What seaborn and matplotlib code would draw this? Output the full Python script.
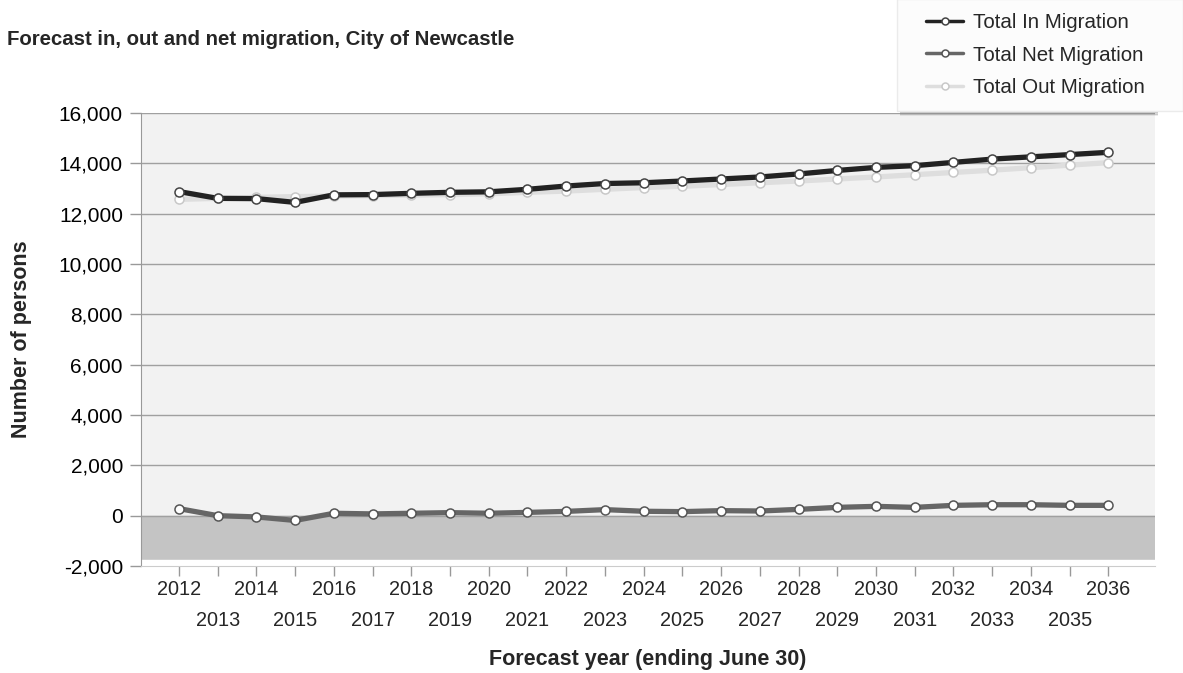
import numpy as np
import pandas as pd
import matplotlib
matplotlib.use("Agg")
import matplotlib.pyplot as plt
import seaborn as sns
from matplotlib.ticker import FuncFormatter
from matplotlib.patches import Rectangle

# ---------------------------------------------------------------
# Data
# ---------------------------------------------------------------
years = list(range(2012, 2037))
in_migration = [12880, 12610, 12600, 12450, 12750, 12760, 12810, 12850, 12870, 12970,
                13100, 13200, 13230, 13300, 13380, 13460, 13580, 13720, 13840, 13910,
                14040, 14170, 14260, 14350, 14440]
out_migration = [12570, 12610, 12650, 12680, 12700, 12720, 12740, 12760, 12790, 12850,
                 12900, 12970, 13040, 13090, 13160, 13230, 13300, 13380, 13460, 13550,
                 13640, 13730, 13830, 13930, 14030]
net_migration = [280, 0, -50, -190, 95, 70, 95, 120, 95, 130,
                 170, 240, 175, 160, 200, 185, 250, 330, 370, 330,
                 410, 435, 435, 410, 410]

series_names = ["Total In Migration", "Total Net Migration", "Total Out Migration"]
series_colors = {"Total In Migration": "#222222",
                 "Total Net Migration": "#666666",
                 "Total Out Migration": "#dedede"}
marker_edges = {"Total In Migration": "#444444",
                "Total Net Migration": "#555555",
                "Total Out Migration": "#c8c8c8"}

df = pd.DataFrame({
    "year": years * 3,
    "value": in_migration + net_migration + out_migration,
    "series": np.repeat(series_names, len(years)),
})

# ---------------------------------------------------------------
# Plot
# ---------------------------------------------------------------
sns.set_style("white")
plt.rcParams["font.family"] = ["Liberation Sans", "DejaVu Sans"]

W, H = 1183, 673
fig = plt.figure(figsize=(W / 100, H / 100), dpi=100)
ax = fig.add_axes([0.1192, 0.159, 0.857, 0.673])
ax.set_facecolor("#f2f2f2")

# negative zone shading
ax.axhspan(-1780, 0, color="#c4c4c4", zorder=0)
ax.axhspan(-2000, -1780, color="white", zorder=0)

for v in range(0, 16001, 2000):
    ax.axhline(v, color="#a0a0a0", lw=1, zorder=1)

# draw order: out, net, in (in on top)
for name in ["Total Out Migration", "Total Net Migration", "Total In Migration"]:
    sub = df[df["series"] == name]
    sns.lineplot(data=sub, x="year", y="value", ax=ax, color=series_colors[name],
                 lw=3.8, marker="o", markersize=6.5, markerfacecolor="white",
                 markeredgecolor=marker_edges[name], markeredgewidth=1.1,
                 label=name, zorder=3)

ax.set_xlim(2011.02, 2037.2)
ax.set_ylim(-2000, 16000)
ax.set_yticks(range(-2000, 16001, 2000))
ax.yaxis.set_major_formatter(FuncFormatter(lambda v, p: f"{int(v):,}"))
ax.tick_params(axis="y", left=True, length=8, width=1, color="#999999",
               pad=5, labelsize=15, labelcolor="black")

even = [y for y in years if y % 2 == 0]
odd = [y for y in years if y % 2 == 1]
ax.set_xticks(even)
ax.set_xticklabels([str(y) for y in even])
ax.set_xticks(odd, minor=True)
ax.set_xticklabels([str(y) for y in odd], minor=True)
ax.tick_params(axis="x", which="major", bottom=True, length=7, width=1,
               color="#999999", pad=3, labelsize=14.3)
ax.tick_params(axis="x", which="minor", bottom=True, length=7, width=1,
               color="#999999", pad=25.5, labelsize=14.3)

for s in ["top", "right"]:
    ax.spines[s].set_visible(False)
ax.spines["left"].set_color("#999999")
ax.spines["bottom"].set_color("#cccccc")

ax.set_xlabel("Forecast year (ending June 30)", fontsize=15.5, fontweight="bold")
ax.xaxis.set_label_coords(0.5, -0.183)
ax.set_ylabel("Number of persons", fontsize=15.5, fontweight="bold")
ax.yaxis.set_label_coords(-0.108, 0.5)

fig.text(0.006, 0.941, "Forecast in, out and net migration, City of Newcastle",
         fontsize=14.7, fontweight="bold", va="center")

# legend box with a soft drop shadow along the bottom
for k, a in enumerate([0.45, 0.3, 0.15]):
    fig.patches.append(Rectangle((900 / W, 1 - (113 + k * 1.5) / H), 258 / W, 1.8 / H,
                                 transform=fig.transFigure, color="#808080",
                                 alpha=a, lw=0, zorder=0))
fig.patches.append(Rectangle((897 / W, 1 - 111 / H), (W - 897) / W, 112 / H,
                             transform=fig.transFigure, facecolor="#fcfcfc",
                             edgecolor="#ebebeb", lw=1, zorder=1))

# legend in order In, Net, Out
handles, labels = ax.get_legend_handles_labels()
order = [labels.index(n) for n in series_names]
ax.legend_.remove()
leg = fig.legend([handles[i] for i in order], [labels[i] for i in order],
                 loc="upper left", bbox_to_anchor=(926 / W, 0.981), frameon=False,
                 fontsize=14.8, handlelength=1.8, handletextpad=0.49,
                 borderpad=0, labelspacing=0.67, borderaxespad=0)
for line in leg.get_lines():
    line.set_linewidth(2.5)
    line.set_markersize(5)

fig.savefig("out.png", dpi=100)
